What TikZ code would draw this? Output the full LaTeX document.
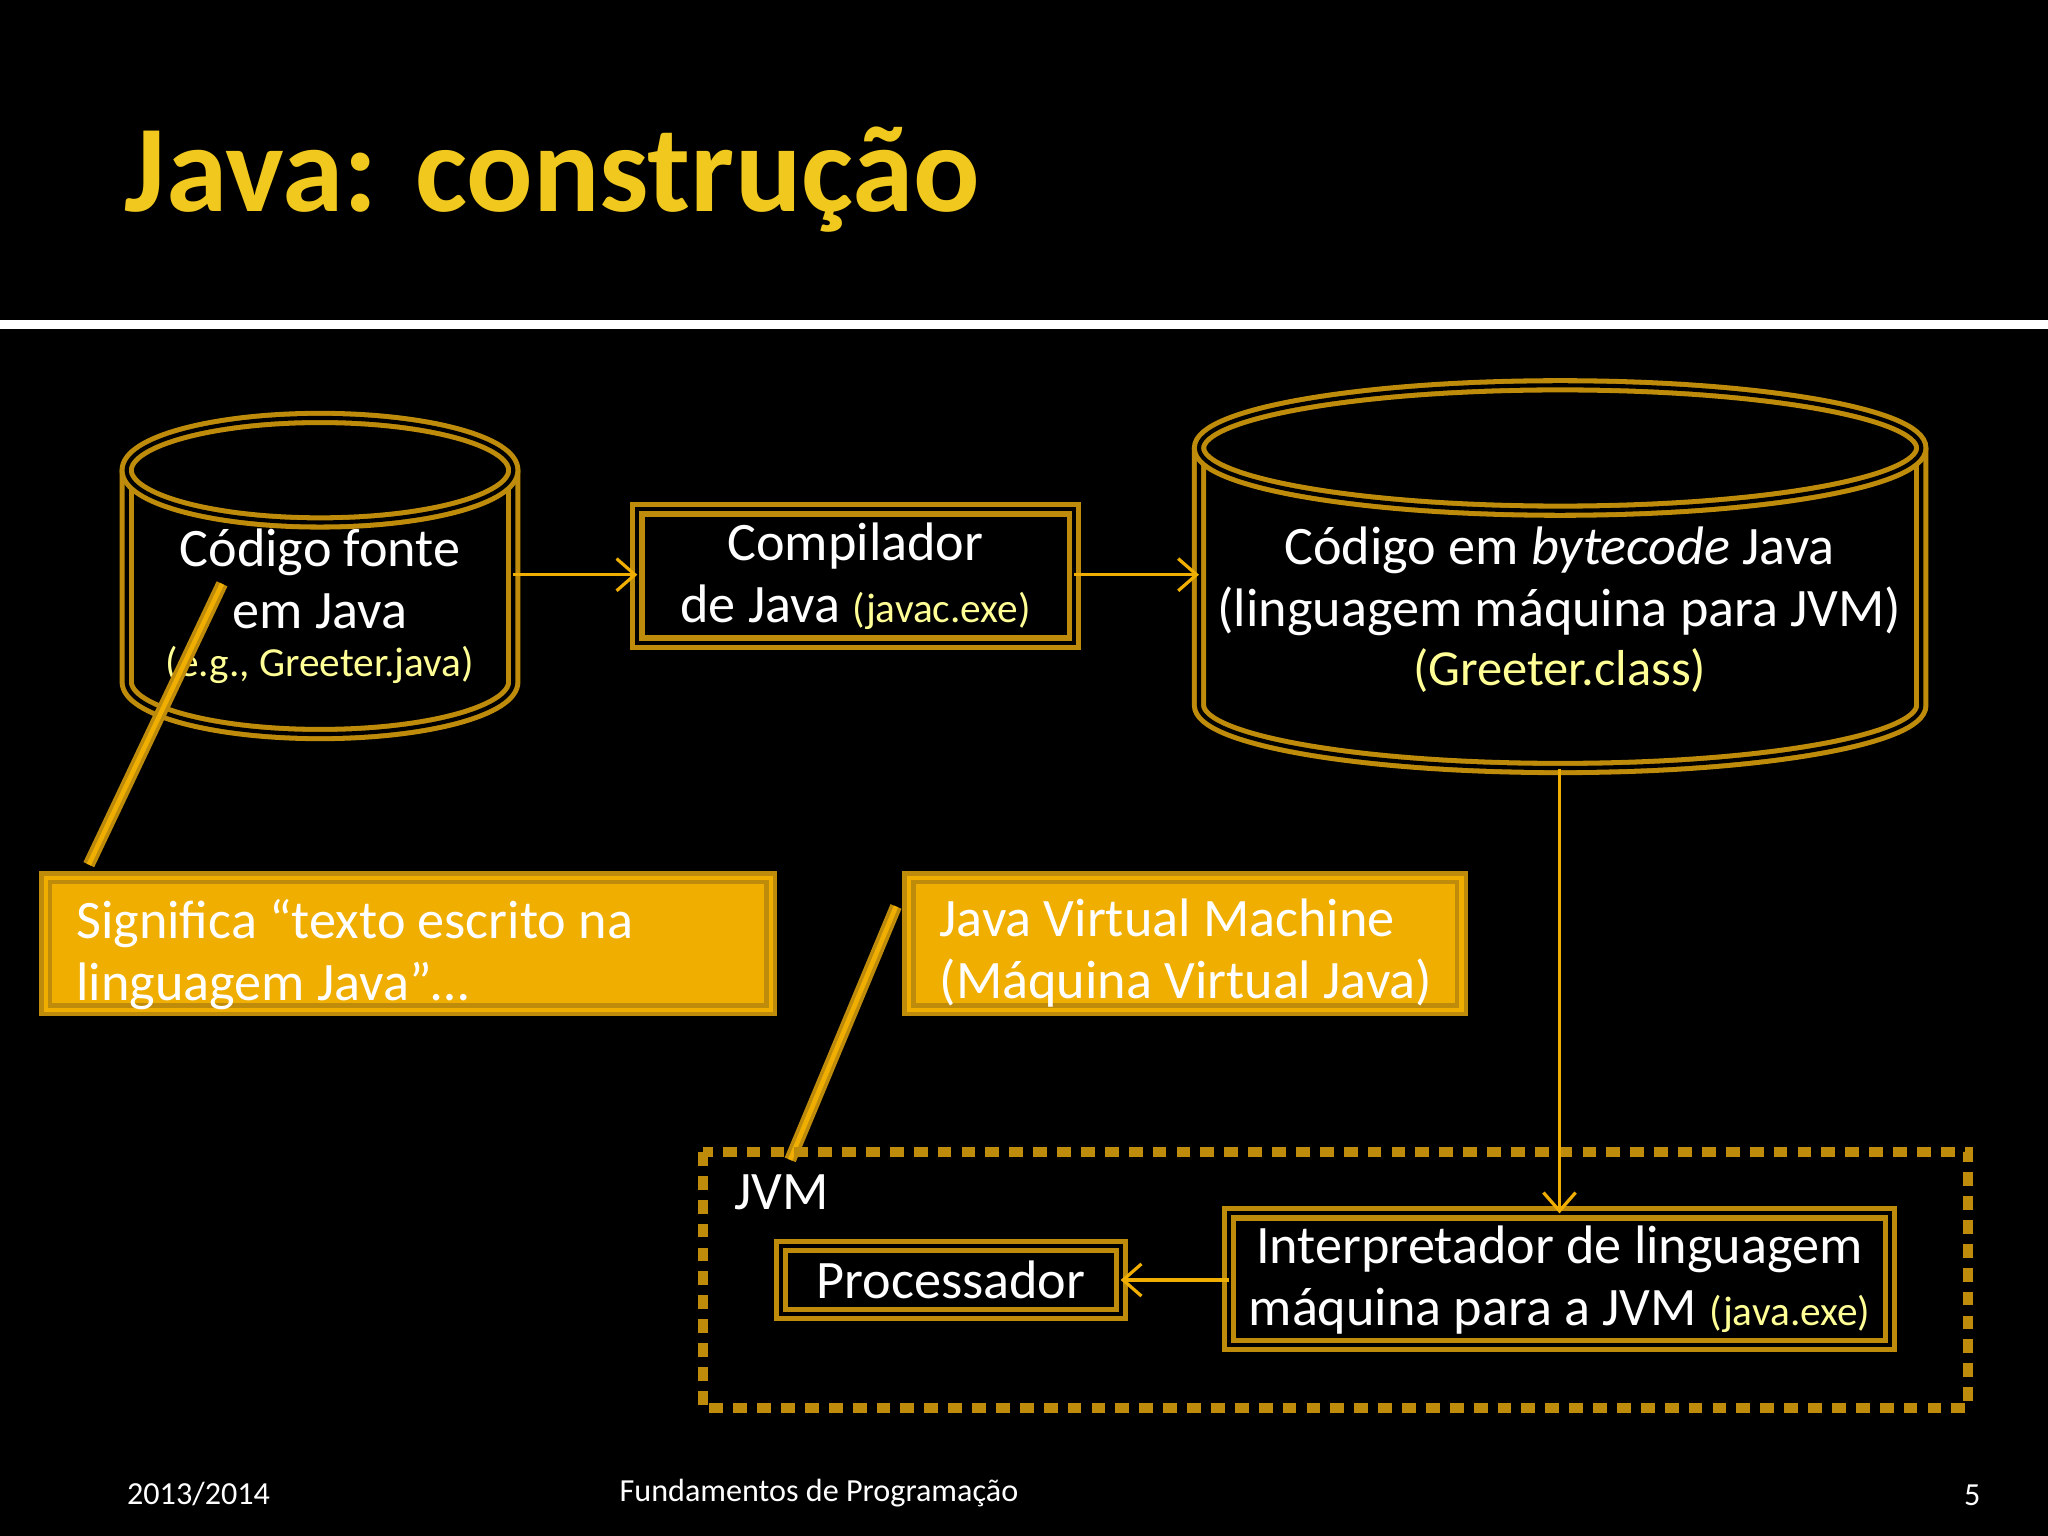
\documentclass[tikz,border=0pt]{standalone}
\usepackage{fontspec}
\setmainfont{Carlito}
\usetikzlibrary{arrows.meta}
\definecolor{gold}{RGB}{190,140,10}
\definecolor{fillY}{RGB}{240,174,0}
\definecolor{ltY}{RGB}{255,255,150}
\definecolor{titleY}{RGB}{240,200,30}
\tikzset{
 dbl/.style={draw=gold,double=black,line width=1.1pt,double distance=0.9pt},
 dblY/.style={draw=gold,double=fillY,line width=1pt,double distance=0.9pt},
 arr/.style={draw=fillY,line width=0.7pt,-{Straight Barb[length=4pt,width=7pt]}},
 txt/.style={text=white,font=\fontsize{11.8}{13.5}\selectfont,align=center},
 sm/.style={text=ltY,font=\fontsize{9}{11}\selectfont}
}
\begin{document}
\begin{tikzpicture}[x=0.01cm,y=-0.01cm]
\fill[black] (0,0) rectangle (1568,1176);
\useasboundingbox (0,0) rectangle (1568,1176);
\node[anchor=base west,text=titleY,font=\fontsize{27}{30}\selectfont\bfseries,inner sep=0] (title) at (95,162) {Java: construção};
\fill[white] (0,245) rectangle (1568,252);
% left cylinder
\draw[dbl] (97,360) -- (97,522) arc[start angle=180,end angle=0,x radius=148,y radius=40] -- (393,360);
\draw[dbl] (245,360) ellipse[x radius=148,y radius=40];
\node[txt] (src) at (245,443) {Código fonte\\em Java};
\node[sm] (srcex) at (245,509) {(e.g., Greeter.java)};
% right cylinder
\draw[dbl] (918,343) -- (918,540) arc[start angle=180,end angle=0,x radius=276.5,y radius=48] -- (1471,343);
\draw[dbl] (1194.5,343) ellipse[x radius=276.5,y radius=48];
\node[txt] (bc) at (1194,445) {Código em \textit{bytecode} Java\\(linguagem máquina para JVM)};
\node[sm,font=\fontsize{11}{13}\selectfont] (bcex) at (1194,513) {(Greeter.class)};
% compiler
\draw[dbl] (488,390) rectangle (822,492);
\node[txt] (comp) at (655,441) {Compilador\\de Java {\color{ltY}\fontsize{9}{11}\selectfont(javac.exe)}};
\coordinate (c1) at (393,440); \coordinate (c2) at (488,440);
\coordinate (c3) at (822,440); \coordinate (c4) at (918,440);
\draw[arr] (c1) -- (c2);
\draw[arr] (c3) -- (c4);
% callouts
\draw[dblY,fill=fillY] (35,672) rectangle (590,773);
\node[anchor=north west,text=white,font=\fontsize{11.8}{13.5}\selectfont,align=left] (co1) at (46,676) {Significa “texto escrito na\\linguagem Java”…};
\draw[dblY,fill=fillY] (696,672) rectangle (1119,773);
\node[anchor=north west,text=white,font=\fontsize{11.8}{13.5}\selectfont,align=left] (co2) at (707,676) {Java Virtual Machine\\(Máquina Virtual Java)};
\coordinate (l1a) at (170,447); \coordinate (l1b) at (68,662);
\coordinate (l2a) at (686,694); \coordinate (l2b) at (605,888);
\draw[dblY,line width=0.8pt,double distance=1pt] (l1a) -- (l1b);
\draw[dblY,line width=0.8pt,double distance=1pt] (l2a) -- (l2b);
% JVM
\draw[gold,line width=2.2pt,dash pattern=on 3pt off 2.2pt] (538,882) rectangle (1507,1078);
\node[text=white,font=\fontsize{11.8}{13.5}\selectfont,anchor=west] (jvm) at (550,913) {JVM};
\draw[dbl] (598,954) rectangle (858,1006);
\node[txt] (proc) at (728,980) {Processador};
\draw[dbl] (941,929) rectangle (1447,1030);
\node[txt] (interp) at (1194,980) {Interpretador de linguagem\\máquina para a JVM {\color{ltY}\fontsize{9}{11}\selectfont(java.exe)}};
\coordinate (d1) at (1194,589); \coordinate (d2) at (1194,929);
\coordinate (e1) at (941,980); \coordinate (e2) at (858,980);
\draw[arr] (d1) -- (d2);
\draw[arr] (e1) -- (e2);
% footer
\node[text=white,font=\fontsize{7}{9}\selectfont] (f1) at (152,1144) {2013/2014};
\node[text=white,font=\fontsize{7}{9}\selectfont] (f2) at (627,1143) {Fundamentos de Programação};
\node[text=white,font=\fontsize{7}{9}\selectfont] (f3) at (1510,1145) {5};
\end{tikzpicture}
\end{document}
